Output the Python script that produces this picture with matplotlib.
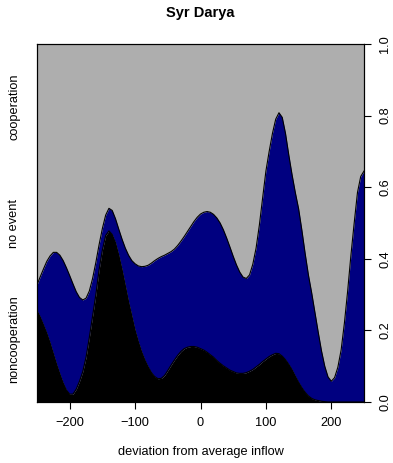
import matplotlib
matplotlib.use("Agg")
import matplotlib.pyplot as plt

plt.rcParams['font.family'] = ['Liberation Sans', 'DejaVu Sans']

# deviation from average inflow (grid of the density estimate)
deviation = list(range(-250, 255, 5))

# cumulative share: noncooperation (lower curve)
noncoop = [0.255, 0.237, 0.215, 0.192, 0.165, 0.135, 0.105, 0.078, 0.053, 0.033,
           0.022, 0.022, 0.036, 0.058, 0.085, 0.125, 0.18, 0.24, 0.30, 0.37,
           0.425, 0.465, 0.478, 0.468, 0.445, 0.41, 0.37, 0.325, 0.28, 0.24,
           0.20, 0.168, 0.14, 0.117, 0.098, 0.082, 0.071, 0.065, 0.066, 0.074,
           0.088, 0.103, 0.117, 0.130, 0.141, 0.149, 0.153, 0.155, 0.155, 0.153,
           0.149, 0.145, 0.139, 0.132, 0.125, 0.116, 0.108, 0.101, 0.095, 0.089,
           0.085, 0.081, 0.080, 0.080, 0.082, 0.086, 0.091, 0.098, 0.105, 0.113,
           0.120, 0.127, 0.132, 0.136, 0.135, 0.128, 0.118, 0.105, 0.09, 0.072,
           0.055, 0.04, 0.027, 0.017, 0.01, 0.006, 0.004, 0.002, 0.001, 0.0,
           0.0, 0.0, 0.0, 0.0, 0.0, 0.0, 0.0, 0.0, 0.0, 0.0,
           0.0]

# cumulative share: noncooperation + no event (upper curve)
no_event = [0.327, 0.35, 0.372, 0.393, 0.408, 0.418, 0.418, 0.41, 0.395, 0.375,
            0.353, 0.33, 0.308, 0.292, 0.285, 0.29, 0.31, 0.345, 0.39, 0.44,
            0.485, 0.522, 0.541, 0.535, 0.512, 0.483, 0.455, 0.43, 0.41, 0.395,
            0.386, 0.38, 0.378, 0.379, 0.382, 0.388, 0.395, 0.401, 0.406, 0.41,
            0.415, 0.42, 0.427, 0.437, 0.449, 0.462, 0.476, 0.49, 0.504, 0.516,
            0.525, 0.53, 0.532, 0.53, 0.524, 0.514, 0.50, 0.481, 0.458, 0.433,
            0.407, 0.383, 0.363, 0.349, 0.345, 0.355, 0.385, 0.43, 0.494, 0.57,
            0.645, 0.70, 0.75, 0.79, 0.808, 0.795, 0.75, 0.69, 0.635, 0.585,
            0.54, 0.48, 0.415, 0.355, 0.305, 0.25, 0.195, 0.143, 0.10, 0.07,
            0.058, 0.068, 0.097, 0.145, 0.22, 0.31, 0.41, 0.50, 0.585, 0.63,
            0.645]

categories = ["noncooperation", "no event", "cooperation"]
cat_pos = [0.175, 0.5, 0.825]

fig = plt.figure(figsize=(3.93, 4.63), dpi=100)
ax = fig.add_axes([37 / 393, 61 / 463, 327 / 393, 358 / 463])

top = [1.0] * len(deviation)
zero = [0.0] * len(deviation)
ax.fill_between(deviation, no_event, top, color='#AEAEAE', lw=0)
ax.fill_between(deviation, noncoop, no_event, color='#000080', lw=0)
ax.fill_between(deviation, zero, noncoop, color='black', lw=0)
ax.plot(deviation, no_event, color='black', lw=0.8)
ax.plot(deviation, noncoop, color='black', lw=0.8)

ax.set_xlim(-250, 250)
ax.set_ylim(0, 1)
ax.set_xticks([-200, -100, 0, 100, 200])
ax.set_xticklabels(['\u2212200', '\u2212100', '0', '100', '200'])
ax.tick_params(axis='x', length=5, width=0.8, pad=6, labelsize=9.2)
ax.set_yticks(cat_pos)
ax.set_yticklabels(categories, rotation=90, va='center')
ax.tick_params(axis='y', length=0, pad=12, labelsize=9.2)
for s in ax.spines.values():
    s.set_linewidth(0.8)

ax2 = ax.twinx()
ax2.set_ylim(0, 1)
ax2.set_yticks([0, 0.2, 0.4, 0.6, 0.8, 1.0])
ax2.set_yticklabels(['0.0', '0.2', '0.4', '0.6', '0.8', '1.0'], rotation=90, va='center')
ax2.tick_params(axis='y', length=5, width=0.8, pad=6, labelsize=9.2)

ax.set_xlabel('deviation from average inflow', fontsize=9.2, labelpad=12)
fig.text(0.51, 1 - 13.5 / 463, 'Syr Darya', ha='center', va='center',
         fontsize=10.5, fontweight='bold')

fig.savefig('out.png', dpi=100)
